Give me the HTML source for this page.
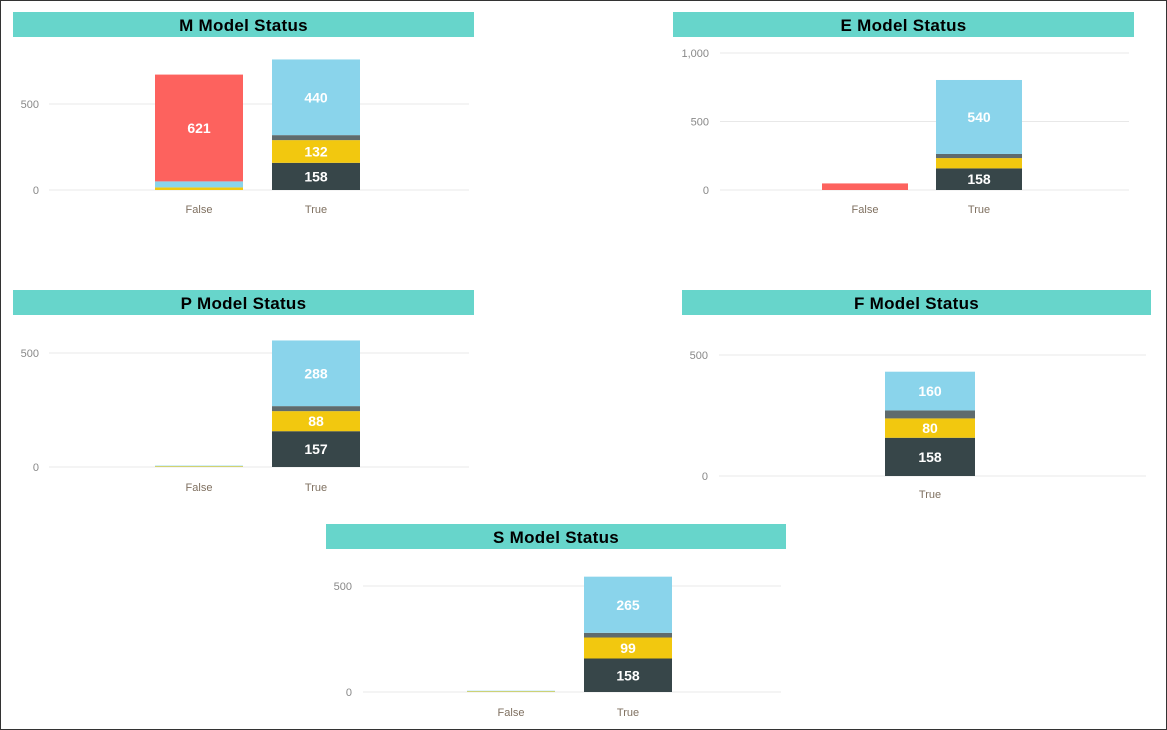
<!DOCTYPE html>
<html><head><meta charset="utf-8"><style>
html,body{margin:0;padding:0;background:#fff}
#root{position:relative;width:1165px;height:728px;border:1px solid #333;overflow:hidden;font-family:"Liberation Sans",sans-serif}
.title{position:absolute;height:25px;background:#67d5cb;color:#000;font-weight:bold;font-size:17px;text-align:center;line-height:27px;letter-spacing:0.3px}
svg{position:absolute;left:0;top:0}
</style></head><body>
<div id="root">
<div class="title" style="left:12px;top:11px;width:461px">M Model Status</div>
<div class="title" style="left:672px;top:11px;width:461px">E Model Status</div>
<div class="title" style="left:12px;top:289px;width:461px">P Model Status</div>
<div class="title" style="left:681px;top:289px;width:469px">F Model Status</div>
<div class="title" style="left:325px;top:523px;width:460px">S Model Status</div>
<svg id="svg" width="1165" height="728"></svg>
</div>
<script>
// series order bottom->top: dark, yellow, gray, blue, red
const seriesNames = ["dark","yellow","gray","blue","red"];
const seriesColors = ["#374649","#f2c80f","#5f6b6d","#8ad4eb","#fd625e"];

const mCategories = ["False","True"];
const mDark = [0,158];
const mYellow = [15,132];
const mGray = [0,29];
const mBlue = [35,440];
const mRed = [621,0];
const mTicks = [0,500];

const eCategories = ["False","True"];
const eDark = [0,158];
const eYellow = [0,75];
const eGray = [0,30];
const eBlue = [0,540];
const eRed = [48,0];
const eTicks = [0,500,1000];

const pCategories = ["False","True"];
const pDark = [0,157];
const pYellow = [3,88];
const pGray = [0,22];
const pBlue = [3,288];
const pRed = [0,0];
const pTicks = [0,500];

const fCategories = ["True"];
const fDark = [158];
const fYellow = [80];
const fGray = [33];
const fBlue = [160];
const fRed = [0];
const fTicks = [0,500];

const sCategories = ["False","True"];
const sDark = [0,158];
const sYellow = [3,99];
const sGray = [0,22];
const sBlue = [3,265];
const sRed = [0,0];
const sTicks = [0,500];

const NS="http://www.w3.org/2000/svg";
const svg=document.getElementById('svg');
function mk(tag,attrs,parent){const e=document.createElementNS(NS,tag);for(const k in attrs)e.setAttribute(k,attrs[k]);(parent||svg).appendChild(e);return e;}

function chart(id,cfg,cats,series,ticks){
  const g=mk('g',{});
  
  
  const y=v=>cfg.y0-v*cfg.k;
  ticks.forEach(t=>{
    const l=mk('line',{x1:cfg.gx0,x2:cfg.gx1,y1:y(t),y2:y(t),stroke:'#e8e8e8','stroke-width':1},g);
    
    
    const tx=mk('text',{x:cfg.ax,y:y(t)+4,'text-anchor':'end','font-size':11,fill:'#888'},g);
    tx.textContent=t.toLocaleString('en-US');
    
    
  });
  cats.forEach((c,i)=>{
    const bx=cfg.bx[i];
    let acc=0;
    series.forEach((arr,si)=>{
      const v=arr[i]; if(!v) return;
      const r=mk('rect',{x:bx,y:y(acc+v),width:cfg.bw,height:v*cfg.k,fill:seriesColors[si]},g);
      
      
      if(v*cfg.k>=15 && seriesNames[si]!=='gray'){
        const t=mk('text',{x:bx+cfg.bw/2,y:y(acc+v/2)+5,'text-anchor':'middle','font-size':14,'font-weight':'bold',fill:'#fff'},g);
        t.textContent=v;
        
        
      }
      acc+=v;
    });
    const cl=mk('text',{x:bx+cfg.bw/2,y:cfg.ly,'text-anchor':'middle','font-size':11,fill:'#7f7060'},g);
    cl.textContent=c;
    
    
  });
}
chart('m',{y0:189,k:0.172,gx0:48,gx1:468,ax:38,bx:[154,271],bw:88,ly:212},mCategories,[mDark,mYellow,mGray,mBlue,mRed],mTicks);
chart('e',{y0:189,k:0.137,gx0:719,gx1:1128,ax:708,bx:[821,935],bw:86,ly:212},eCategories,[eDark,eYellow,eGray,eBlue,eRed],eTicks);
chart('p',{y0:466,k:0.228,gx0:48,gx1:468,ax:38,bx:[154,271],bw:88,ly:490},pCategories,[pDark,pYellow,pGray,pBlue,pRed],pTicks);
chart('f',{y0:475,k:0.242,gx0:718,gx1:1145,ax:707,bx:[884],bw:90,ly:497},fCategories,[fDark,fYellow,fGray,fBlue,fRed],fTicks);
chart('s',{y0:691,k:0.212,gx0:362,gx1:780,ax:351,bx:[466,583],bw:88,ly:715},sCategories,[sDark,sYellow,sGray,sBlue,sRed],sTicks);
</script>
</body></html>
